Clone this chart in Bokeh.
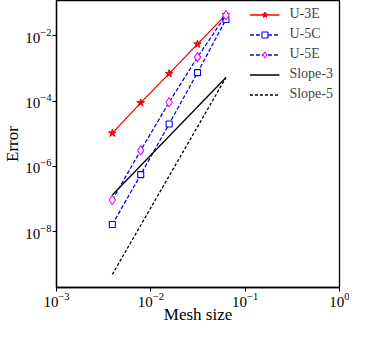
import numpy as np
from bokeh.plotting import figure
from bokeh.models import FixedTicker, Legend, LegendItem, Range1d
from bokeh.embed import file_html
from bokeh.resources import INLINE

# data
mesh = [1/256, 1/128, 1/64, 1/32, 1/16]
err_u3e = [1.05e-5, 8.9e-5, 7.0e-4, 5.6e-3, 4.5e-2]
err_u5c = [1.66e-8, 5.6e-7, 2.0e-5, 7.5e-4, 3.2e-2]
err_u5e = [9.4e-8, 3.1e-6, 9.3e-5, 2.24e-3, 4.3e-2]
slope_x = [1/256, 1/16]
slope3_y = [1.33e-7, 5.3e-4]
slope5_y = [4.9e-10, 5.3e-4]
x_ticks = [1e-3, 1e-2, 1e-1, 1.0]
y_ticks = [1e-8, 1e-6, 1e-4, 1e-2]
labels = ["U-3E", "U-5C", "U-5E", "Slope-3", "Slope-5"]

FONT = "Liberation Serif"

p = figure(width=349, height=327, x_axis_type="log", y_axis_type="log",
           x_range=Range1d(1e-3, 1.0), y_range=Range1d(10**-9.71, 10**-0.914),
           output_backend="svg", toolbar_location=None,
           min_border_left=52, min_border_right=10, min_border_top=0, min_border_bottom=40)

p.grid.visible = False
p.outline_line_color = "black"
p.outline_line_width = 1.3
p.background_fill_color = "white"

for ax in (p.xaxis[0], p.yaxis[0]):
    ax.major_tick_out = 4
    ax.major_tick_in = 0
    ax.minor_tick_out = 0
    ax.minor_tick_in = 0
    ax.axis_line_width = 1.3
    ax.axis_line_color = "black"
    ax.major_tick_line_color = "black"
    ax.major_label_text_font = FONT
    ax.major_label_text_font_size = "15px"
    ax.major_label_text_color = "black"
    ax.axis_label_text_font = FONT
    ax.axis_label_text_font_size = "17px"
    ax.axis_label_text_font_style = "normal"
    ax.axis_label_text_color = "black"
    ax.major_label_standoff = 1
    ax.axis_label_standoff = 0

p.xaxis.ticker = FixedTicker(ticks=x_ticks)
p.yaxis.ticker = FixedTicker(ticks=y_ticks)
p.yaxis.axis_label = "Error"
p.xaxis.axis_label = "Mesh size"
p.xaxis.major_label_standoff = 1
p.xaxis.axis_label_standoff = -5

r1l = p.line(mesh, err_u3e, line_color="red", line_width=1.3)
r1m = p.scatter(mesh, err_u3e, marker="star", size=8, line_color="red", fill_color="red")
r2l = p.line(mesh, err_u5c, line_color="blue", line_width=1.3, line_dash="4 2")
r2m = p.scatter(mesh, err_u5c, marker="square", size=6, line_color="blue", fill_color="white", line_width=1.1)
r3l = p.line(mesh, err_u5e, line_color="blue", line_width=1.3, line_dash="4 2")
r3m = p.scatter(mesh, err_u5e, marker="diamond", size=9.5,
                line_color="magenta", fill_color="white", line_width=1.1)
r4 = p.line(slope_x, slope3_y, line_color="black", line_width=1.3)
r5 = p.line(slope_x, slope5_y, line_color="black", line_width=1.3, line_dash="3 2")

legend = Legend(items=[
    LegendItem(label=labels[0], renderers=[r1l, r1m]),
    LegendItem(label=labels[1], renderers=[r2l, r2m]),
    LegendItem(label=labels[2], renderers=[r3l, r3m]),
    LegendItem(label=labels[3], renderers=[r4]),
    LegendItem(label=labels[4], renderers=[r5]),
], location="top_right")
legend.border_line_color = None
legend.background_fill_alpha = 0
legend.label_text_font = FONT
legend.label_text_font_size = "14px"
legend.glyph_width = 30
legend.glyph_height = 15
legend.label_height = 15
legend.spacing = 4
legend.padding = 5
legend.margin = 6
legend.label_standoff = 10
p.add_layout(legend)

open("out.html", "w").write(file_html(p, INLINE))
